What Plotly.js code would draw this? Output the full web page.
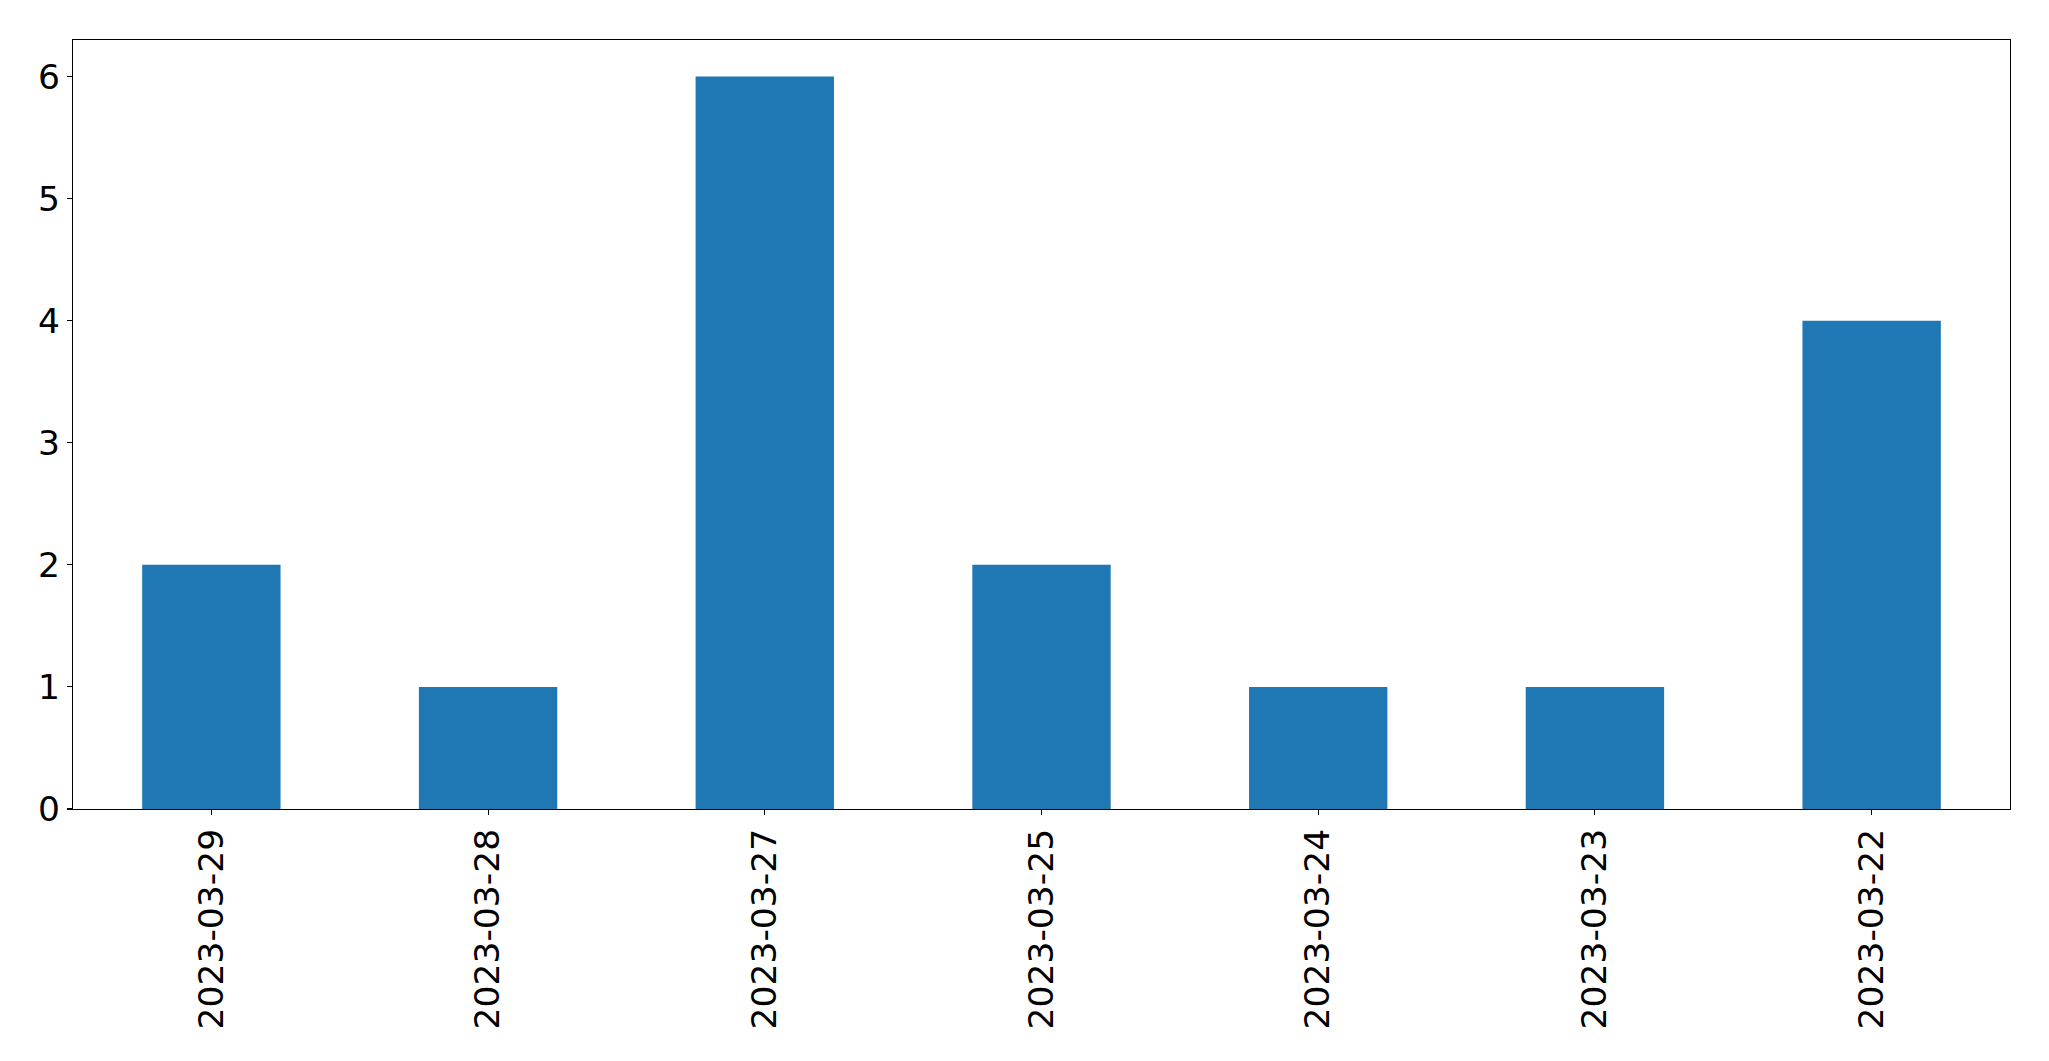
<!DOCTYPE html>
<html>
<head>
<meta charset="utf-8">
<script src="https://cdn.plot.ly/plotly-3.0.1.min.js"></script>
<style>html,body{margin:0;padding:0;background:#fff;}#chart{width:2049px;height:1061px;}</style>
</head>
<body>
<div id="chart"></div>
<script>
const categories = ["2023-03-29", "2023-03-28", "2023-03-27", "2023-03-25", "2023-03-24", "2023-03-23", "2023-03-22"];
const counts = [2, 1, 6, 2, 1, 1, 4];
const yTicks = [0, 1, 2, 3, 4, 5, 6];

const trace = {
  type: "bar",
  x: categories,
  y: counts,
  marker: {color: "#1f77b4", line: {width: 0}},
  hoverinfo: "x+y"
};

const layout = {
  width: 2049,
  height: 1061,
  margin: {l: 72.5, r: 39.3, t: 39.5, b: 252, pad: 0},
  paper_bgcolor: "#ffffff",
  plot_bgcolor: "#ffffff",
  bargap: 0.5,
  showlegend: false,
  font: {family: "DejaVu Sans", color: "#000000", size: 34.5},
  xaxis: {
    type: "category",
    categoryorder: "array",
    categoryarray: categories,
    range: [-0.5, categories.length - 0.5],
    tickangle: -90,
    ticks: "outside",
    ticklen: 5,
    tickwidth: 1.1,
    tickcolor: "#000",
    showline: true,
    linecolor: "#000",
    linewidth: 1.1,
    mirror: true,
    showgrid: false,
    zeroline: false,
    tickfont: {family: "DejaVu Sans", size: 34.5, color: "#000"}
  },
  yaxis: {
    range: [0, 6.3],
    tickvals: yTicks,
    ticktext: yTicks.map(String),
    ticks: "outside",
    ticklen: 5,
    tickwidth: 1.1,
    tickcolor: "#000",
    showline: true,
    linecolor: "#000",
    linewidth: 1.1,
    mirror: true,
    showgrid: false,
    zeroline: false,
    tickfont: {family: "DejaVu Sans", size: 34.5, color: "#000"}
  }
};

Plotly.newPlot("chart", [trace], layout, {staticPlot: true, displayModeBar: false});
</script>
</body>
</html>
